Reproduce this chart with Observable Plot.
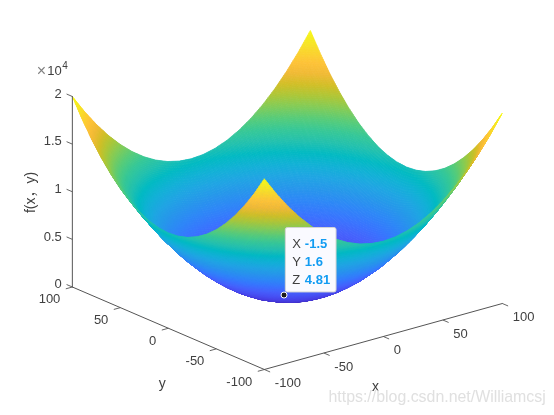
<!DOCTYPE html>
<html>
<head>
<meta charset="utf-8">
<script src="https://cdn.jsdelivr.net/npm/d3@7"></script>
<script src="https://cdn.jsdelivr.net/npm/@observablehq/plot@0.6"></script>
<style>html,body{margin:0;padding:0;background:#fff}svg{display:block}</style>
</head>
<body>
<div id="chart"></div>
<script>
const gridX = [-100,-90,-80,-70,-60,-50,-40,-30,-20,-10,0,10,20,30,40,50,60,70,80,90,100];
const gridY = [-100,-90,-80,-70,-60,-50,-40,-30,-20,-10,0,10,20,30,40,50,60,70,80,90,100];
const surfaceZ = [
[20000,18100,16400,14900,13600,12500,11600,10900,10400,10100,10000,10100,10400,10900,11600,12500,13600,14900,16400,18100,20000],
[18100,16200,14500,13000,11700,10600,9700,9000,8500,8200,8100,8200,8500,9000,9700,10600,11700,13000,14500,16200,18100],
[16400,14500,12800,11300,10000,8900,8000,7300,6800,6500,6400,6500,6800,7300,8000,8900,10000,11300,12800,14500,16400],
[14900,13000,11300,9800,8500,7400,6500,5800,5300,5000,4900,5000,5300,5800,6500,7400,8500,9800,11300,13000,14900],
[13600,11700,10000,8500,7200,6100,5200,4500,4000,3700,3600,3700,4000,4500,5200,6100,7200,8500,10000,11700,13600],
[12500,10600,8900,7400,6100,5000,4100,3400,2900,2600,2500,2600,2900,3400,4100,5000,6100,7400,8900,10600,12500],
[11600,9700,8000,6500,5200,4100,3200,2500,2000,1700,1600,1700,2000,2500,3200,4100,5200,6500,8000,9700,11600],
[10900,9000,7300,5800,4500,3400,2500,1800,1300,1000,900,1000,1300,1800,2500,3400,4500,5800,7300,9000,10900],
[10400,8500,6800,5300,4000,2900,2000,1300,800,500,400,500,800,1300,2000,2900,4000,5300,6800,8500,10400],
[10100,8200,6500,5000,3700,2600,1700,1000,500,200,100,200,500,1000,1700,2600,3700,5000,6500,8200,10100],
[10000,8100,6400,4900,3600,2500,1600,900,400,100,0,100,400,900,1600,2500,3600,4900,6400,8100,10000],
[10100,8200,6500,5000,3700,2600,1700,1000,500,200,100,200,500,1000,1700,2600,3700,5000,6500,8200,10100],
[10400,8500,6800,5300,4000,2900,2000,1300,800,500,400,500,800,1300,2000,2900,4000,5300,6800,8500,10400],
[10900,9000,7300,5800,4500,3400,2500,1800,1300,1000,900,1000,1300,1800,2500,3400,4500,5800,7300,9000,10900],
[11600,9700,8000,6500,5200,4100,3200,2500,2000,1700,1600,1700,2000,2500,3200,4100,5200,6500,8000,9700,11600],
[12500,10600,8900,7400,6100,5000,4100,3400,2900,2600,2500,2600,2900,3400,4100,5000,6100,7400,8900,10600,12500],
[13600,11700,10000,8500,7200,6100,5200,4500,4000,3700,3600,3700,4000,4500,5200,6100,7200,8500,10000,11700,13600],
[14900,13000,11300,9800,8500,7400,6500,5800,5300,5000,4900,5000,5300,5800,6500,7400,8500,9800,11300,13000,14900],
[16400,14500,12800,11300,10000,8900,8000,7300,6800,6500,6400,6500,6800,7300,8000,8900,10000,11300,12800,14500,16400],
[18100,16200,14500,13000,11700,10600,9700,9000,8500,8200,8100,8200,8500,9000,9700,10600,11700,13000,14500,16200,18100],
[20000,18100,16400,14900,13600,12500,11600,10900,10400,10100,10000,10100,10400,10900,11600,12500,13600,14900,16400,18100,20000]
];
const xTicks = [-100,-50,0,50,100];
const yTicks = [-100,-50,0,50,100];
const zTicks = [0,5000,10000,15000,20000];
const zTickLabels = ["0","0.5","1","1.5","2"];
const tipPoint = {x:-1.5, y:1.6, z:4.81};
const tipLabels = ["X","Y","Z"];
const tipValues = ["-1.5","1.6","4.81"];
const parula = ["rgb(62,38,168)","rgb(67,50,203)","rgb(71,65,229)","rgb(72,82,244)","rgb(69,99,253)","rgb(56,117,254)","rgb(46,135,247)","rgb(39,150,235)","rgb(32,165,227)","rgb(18,177,214)","rgb(2,186,195)","rgb(36,193,174)","rgb(55,200,151)","rgb(87,204,122)","rgb(129,204,89)","rgb(171,199,57)","rgb(209,191,39)","rgb(240,186,54)","rgb(254,195,56)","rgb(250,214,45)","rgb(245,233,36)","rgb(249,251,21)"];

// orthographic view of the axes box
const view = {ox:286.85, oy:294.75, xu:1.19, xv:-0.33, yu:-0.96, yv:-0.4125, zv:-190.5/20000};
const U = (x,y) => view.ox + view.xu*x + view.yu*y;
const V = (x,y,z=0) => view.oy + view.xv*x + view.yv*y + view.zv*z;

// interpolated shading of each table cell, far corner first so nearer cells paint over
const shade = 9;
const rows = [];
let id = 0;
const at = (i,j,s,t) => {
  const z = surfaceZ[j][i]*(1-s)*(1-t) + surfaceZ[j][i+1]*s*(1-t) + surfaceZ[j+1][i]*(1-s)*t + surfaceZ[j+1][i+1]*s*t;
  const x = gridX[i] + (gridX[i+1]-gridX[i])*s;
  const y = gridY[j] + (gridY[j+1]-gridY[j])*t;
  return {u:U(x,y), v:V(x,y,z), z};
};
for (let j = gridY.length-2; j >= 0; j--) for (let tj = shade-1; tj >= 0; tj--)
for (let i = gridX.length-2; i >= 0; i--) for (let si = shade-1; si >= 0; si--) {
  const s0 = si/shade, s1 = (si+1)/shade, t0 = tj/shade, t1 = (tj+1)/shade;
  const c = [at(i,j,s0,t0), at(i,j,s1,t0), at(i,j,s1,t1), at(i,j,s0,t1)];
  const level = d3.mean(c, d => d.z);
  id++;
  for (const p of [...c, c[0]]) rows.push({u:p.u, v:p.v, level, id});
}

const axisLines = [
  [{x:-100,y:100,z:0},{x:-100,y:100,z:20000}],
  [{x:-100,y:100,z:0},{x:-100,y:-100,z:0}],
  [{x:-100,y:-100,z:0},{x:100,y:-100,z:0}]
].flatMap((pts,k) => pts.map(p => ({k, u:U(p.x,p.y), v:V(p.x,p.y,p.z)})));

const tickLen = {x:-5.5, y:-6};
const textColor = "#404040";
const mu = U(tipPoint.x, tipPoint.y), mv = V(tipPoint.x, tipPoint.y, tipPoint.z);
const tipLine = (d,i) => mv - 51.3 + i*17.85;

const chart = Plot.plot({
  width:554, height:415, margin:0,
  style:{background:"#fff", fontFamily:"'Liberation Sans', 'Noto Sans CJK SC', sans-serif", filter:"blur(0.35px)"},
  x:{domain:[0,554], range:[0,554], axis:null},
  y:{domain:[0,415], range:[0,415], axis:null},
  color:{type:"linear", domain:[0,20000], interpolate:d3.piecewise(d3.interpolateRgb, parula)},
  marks:[
    Plot.line(rows, {x:"u", y:"v", z:"id", fill:"level", stroke:"level", strokeWidth:0.8, curve:"linear"}),
    Plot.line(axisLines, {x:"u", y:"v", z:"k", stroke:"#555", strokeWidth:1}),
    Plot.link(yTicks, {x1:d=>U(-100,d), y1:d=>V(-100,d), x2:d=>U(-100+tickLen.x,d), y2:d=>V(-100+tickLen.x,d), stroke:"#555", strokeWidth:0.9}),
    Plot.link(xTicks, {x1:d=>U(d,-100), y1:d=>V(d,-100), x2:d=>U(d,-100+tickLen.y), y2:d=>V(d,-100+tickLen.y), stroke:"#555", strokeWidth:0.9}),
    Plot.link(zTicks, {x1:()=>U(-100,100), y1:d=>V(-100,100,d), x2:()=>U(-100,100-tickLen.y), y2:d=>V(-100,100-tickLen.y,d), stroke:"#555", strokeWidth:0.9}),
    Plot.text(zTicks, {x:()=>U(-100,100), y:d=>V(-100,100,d), text:(d,i)=>zTickLabels[i], textAnchor:"end", dx:-10.5, dy:-3, fontSize:13, fill:textColor}),
    Plot.text(yTicks, {x:d=>U(-100,d), y:d=>V(-100,d), text:d=>String(d), textAnchor:"end", dx:-12, dy:12.3, fontSize:13, fill:textColor}),
    Plot.text(xTicks, {x:d=>U(d,-100), y:d=>V(d,-100), text:d=>String(d), textAnchor:"start", dx:10.5, dy:13.5, fontSize:13, fill:textColor}),
    Plot.text(["x"], {x:()=>375, y:()=>386, text:d=>d, fontSize:14, fill:textColor}),
    Plot.text(["y"], {x:()=>161.7, y:()=>383, text:d=>d, fontSize:14, fill:textColor}),
    Plot.text(["f(x，y)"], {x:()=>30.5, y:()=>192, text:d=>d, rotate:-90, fontSize:14, fill:textColor}),
    Plot.text(["×"], {x:()=>41, y:()=>70.5, text:d=>d, fontSize:16, fill:"#808080"}),
    Plot.text(["10"], {x:()=>54, y:()=>70.5, text:d=>d, fontSize:13, fill:textColor}),
    Plot.text(["4"], {x:()=>64.5, y:()=>65, text:d=>d, fontSize:10, fill:textColor}),
    Plot.rect([tipPoint], {x1:()=>mu+1.8, x2:()=>mu+52.5, y1:()=>mv-67, y2:()=>mv-2.6, fill:"#fafaff", stroke:"#d4d4d4", strokeWidth:1, rx:2}),
    Plot.text(tipLabels, {x:()=>mu+8.2, y:tipLine, text:d=>d, textAnchor:"start", fontSize:13, fill:textColor}),
    Plot.text(tipValues, {x:()=>mu+20.8, y:tipLine, text:d=>d, textAnchor:"start", fontSize:13, fontWeight:"bold", fill:"#129cf2"}),
    Plot.dot([tipPoint], {x:()=>mu, y:()=>mv, r:3, fill:"#1a1a1a", stroke:"#fff", strokeWidth:1}),
    Plot.text(["https://blog.csdn.net/Williamcsj"], {x:()=>328, y:()=>396.7, text:d=>d, textAnchor:"start", fontSize:15.9, fill:"#e0e0e0"})
  ]
});
document.getElementById("chart").appendChild(chart);
</script>
</body>
</html>
